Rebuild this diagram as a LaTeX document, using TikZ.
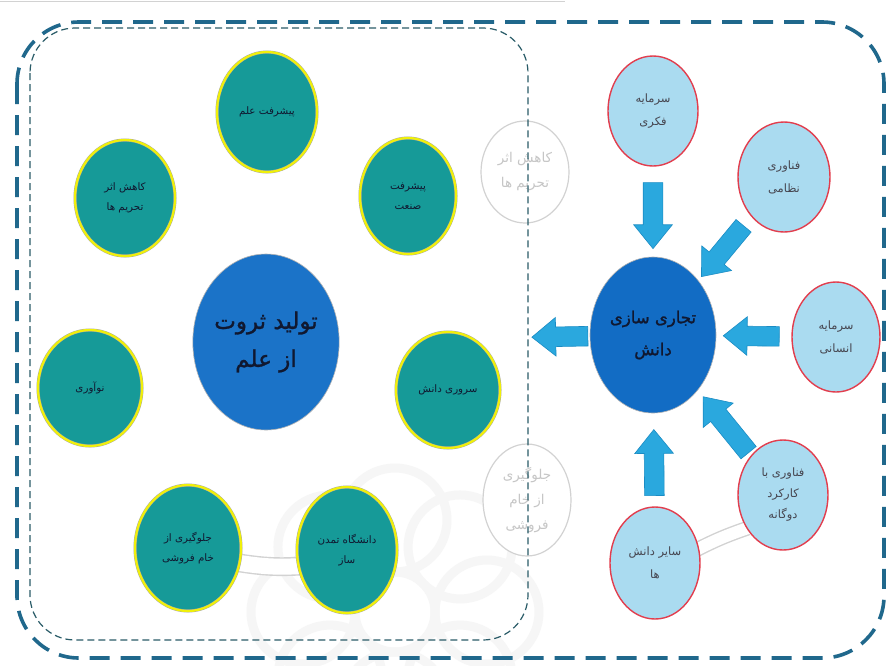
\documentclass[tikz,border=0pt]{standalone}
\usepackage{fontspec}
\newfontfamily\arabicfont[Script=Arabic]{DejaVu Sans}
\newfontfamily\arabicbold[Script=Arabic,FakeBold=1.2]{DejaVu Sans}
\TeXXeTstate=1
\usetikzlibrary{shapes.geometric,shapes.arrows}
\newcommand{\prs}[1]{\beginR #1\endR}
\definecolor{tealc}{RGB}{22,154,152}
\definecolor{ylw}{RGB}{240,240,10}
\definecolor{bluec}{RGB}{27,115,200}
\definecolor{blued}{RGB}{18,108,196}
\definecolor{lightc}{RGB}{170,219,240}
\definecolor{redc}{RGB}{226,62,78}
\definecolor{arrowc}{RGB}{42,168,222}
\definecolor{arrowd}{RGB}{26,140,196}
\definecolor{framec}{RGB}{32,104,140}
\definecolor{innerc}{RGB}{42,92,104}
\definecolor{txtdark}{RGB}{16,24,48}
\definecolor{txtgray}{RGB}{70,70,80}
\tikzset{
  lcirc/.style={ellipse, fill=tealc, draw=gray!70, double=ylw, double distance=2.2pt,
    line width=0.4pt, minimum width=100pt, minimum height=116pt, inner sep=0pt,
    align=center, text=txtdark, node font=\arabicfont\fontsize{10.3}{20}\selectfont},
  bcirc/.style={ellipse, draw=gray!60, line width=0.6pt, inner sep=0pt, align=center,
    text=txtdark},
  rcirc/.style={ellipse, fill=lightc, draw=redc, line width=1.4pt, minimum width=90pt,
    minimum height=110pt, inner sep=0pt, align=center, text=txtgray,
    node font=\arabicfont\fontsize{11.5}{23}\selectfont},
  fcirc/.style={ellipse, fill=white, draw=gray!35, line width=1.2pt, minimum width=88pt,
    minimum height=102pt, inner sep=0pt, align=center, text=gray!45,
    node font=\arabicfont\fontsize{13.5}{25}\selectfont},
  bigarrow/.style={single arrow, fill=arrowc, draw=arrowd, line width=0.6pt,
    minimum width=0pt, inner xsep=0pt, inner ysep=9.5pt,
    single arrow head extend=9.5pt, single arrow tip angle=78,
    sloped, allow upside down},
  dblline/.style={draw=gray!35, double=white, line width=1.4pt},
  outerframe/.style={draw=framec, line width=3.6pt, dash pattern=on 20pt off 11pt,
    rounded corners=62pt},
  innerframe/.style={draw=innerc, line width=1.2pt, dash pattern=on 7pt off 4pt,
    rounded corners=45pt},
}
\begin{document}
\begin{tikzpicture}[x=1pt,y=-1pt]
\useasboundingbox (0,0) rectangle (889,665);
\fill[white] (0,0) rectangle (889,665);
% faint watermark
\begin{scope}
\clip (0,0) rectangle (889,665);
\foreach \a in {0,45,...,315}{
  \draw[gray!7, line width=9pt] (395,612) ++(\a:92) circle (52);
}
\draw[gray!7, line width=9pt] (395,612) circle (40);
\end{scope}
\draw[gray!35, line width=1pt] (0,1) -- (565,1);
% faint circles
\node[fcirc] (fkahesh) at (525,172) {\prs{کاهش اثر}\\\prs{تحریم ها}};
\node[fcirc, minimum height=112pt] (fjelo) at (527,500) {\prs{جلوگیری}\\\prs{از خام}\\\prs{فروشی}};
% double lines
\coordinate (dl1) at (240,563);
\coordinate (dl2) at (302,566);
\draw[dblline, double distance=16pt] (dl1) to[bend right=6] (dl2);
\coordinate (dl3) at (696,550);
\coordinate (dl4) at (748,528);
\draw[dblline, double distance=12pt] (dl3) to[bend left=4] (dl4);
% left cluster
\node[bcirc, fill=bluec, minimum width=142pt, minimum height=176pt,
  node font=\arabicbold\fontsize{23}{38}\selectfont] (tolid) at (266,342) {\prs{تولید ثروت}\\\prs{از علم}};
\node[lcirc, minimum height=120pt] (elm) at (267,112) {\prs{پیشرفت علم}};
\node[lcirc] (kahesh) at (125,198) {\prs{کاهش اثر}\\\prs{تحریم ها}};
\node[lcirc, minimum width=96pt] (sanat) at (408,196) {\prs{پیشرفت}\\\prs{صنعت}};
\node[lcirc, minimum width=104pt] (noavari) at (90,388) {\prs{نوآوری}};
\node[lcirc, minimum width=104pt] (sarvari) at (448,390) {\prs{سروری دانش}};
\node[lcirc, minimum width=106pt, minimum height=126pt] (jelo) at (188,548) {\prs{جلوگیری از}\\\prs{خام فروشی}};
\node[lcirc, minimum height=126pt] (daneshgah) at (347,550) {\prs{دانشگاه تمدن}\\\prs{ساز}};
% right cluster
\node[bcirc, fill=blued, minimum width=126pt, minimum height=156pt,
  node font=\arabicbold\fontsize{16.5}{32}\selectfont] (tejari) at (653,335) {\prs{تجاری سازی}\\\prs{دانش}};
\node[rcirc] (fekri) at (653,111) {\prs{سرمایه}\\\prs{فکری}};
\node[rcirc, minimum width=92pt] (nezami) at (784,177) {\prs{فناوری}\\\prs{نظامی}};
\node[rcirc, minimum width=88pt] (ensani) at (836,337) {\prs{سرمایه}\\\prs{انسانی}};
\node[rcirc, node font=\arabicfont\fontsize{11.5}{21}\selectfont] (dogane) at (783,495) {\prs{فناوری با}\\\prs{کارکرد}\\\prs{دوگانه}};
\node[rcirc, minimum height=112pt] (sayer) at (655,563) {\prs{سایر دانش}\\\prs{ها}};
% block arrows
\path (fekri.center) -- (tejari.center) node[bigarrow, pos=0.44, minimum height=66pt] (a1) {};
\path (nezami.center) -- (tejari.center) node[bigarrow, pos=0.44, minimum height=66pt] (a2) {};
\path (ensani.center) -- (tejari.center) node[bigarrow, pos=0.43, minimum height=56pt] (a3) {};
\path (sayer.center) -- (tejari.center) node[bigarrow, pos=0.414, minimum height=66pt] (a4) {};
\path (dogane.center) -- (tejari.center) node[bigarrow, pos=0.41, minimum height=72pt] (a5) {};
\path (tejari.center) -- (tolid.center) node[bigarrow, pos=0.225, minimum height=56pt] (a6) {};
% frames
\draw[innerframe] (30,28) rectangle (528,640);
\draw[outerframe] (17,22) rectangle (884,658);
\end{tikzpicture}
\end{document}
